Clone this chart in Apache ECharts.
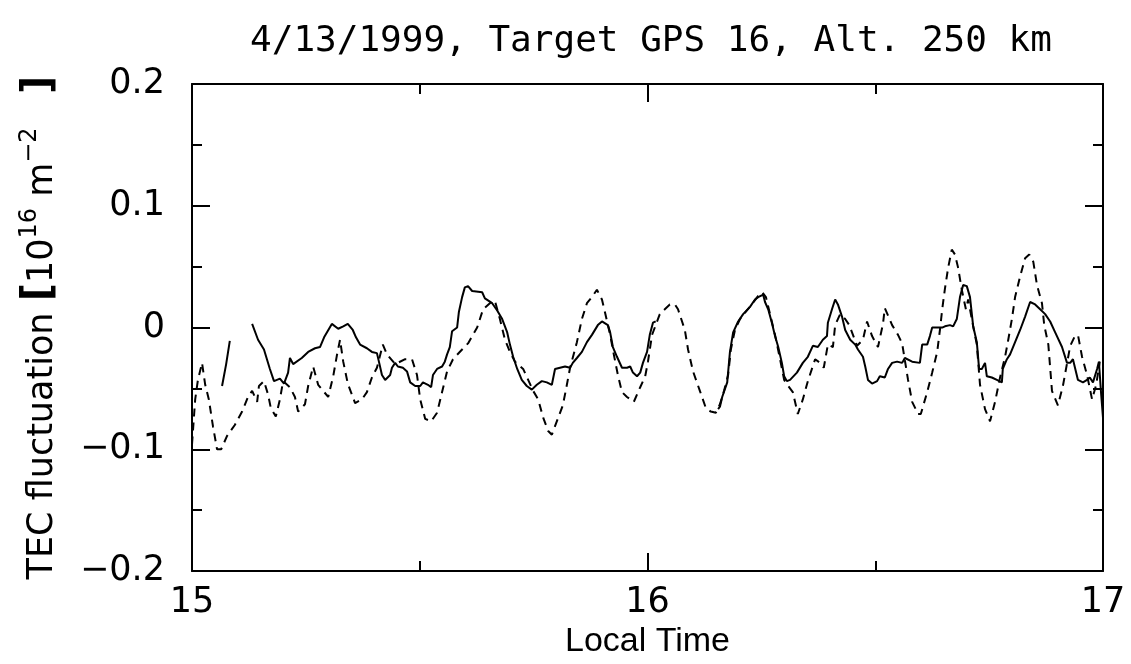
<!DOCTYPE html>
<html>
<head>
<meta charset="utf-8">
<script src="https://cdn.jsdelivr.net/npm/echarts@6/dist/echarts.min.js"></script>
<style>
html,body{margin:0;padding:0;background:#fff;}
#chart{width:1131px;height:664px;}
</style>
</head>
<body>
<div id="chart"></div>
<script>
// Local time (hours) and TEC fluctuation (10^16 m^-2)
const solidTime = [15.066,15.075,15.083,15.100,
15.132,15.145,15.158,15.171,15.180,15.193,15.202,15.211,15.215,15.222,15.241,15.255,15.270,15.281,15.290,15.307,15.321,15.332,15.342,15.353,15.360,15.369,15.384,15.395,15.406,15.411,15.417,15.424,15.435,15.439,15.446,15.452,15.463,15.472,15.479,15.490,15.501,15.507,15.518,15.525,15.529,15.538,15.549,15.555,15.560,15.566,15.571,15.582,15.586,15.593,15.599,15.606,15.615,15.637,15.643,15.659,15.670,15.681,15.692,15.698,15.705,15.714,15.724,15.735,15.746,15.757,15.768,15.779,15.790,15.797,15.808,15.819,15.830,15.836,15.845,15.856,15.867,15.878,15.891,15.900,15.913,15.918,15.924,15.933,15.944,15.955,15.962,15.968,15.977,15.984,15.990,15.999,16.005,16.012,16.018,16.030,
16.155,16.159,16.164,16.175,16.181,16.188,16.199,16.210,16.225,16.236,16.243,16.254,16.258,16.265,16.273,16.280,16.287,16.295,16.300,16.306,16.313,16.328,16.341,16.352,16.363,16.374,16.385,16.394,16.396,16.405,16.412,16.418,16.427,16.434,16.445,16.456,16.462,16.473,16.478,16.484,16.493,16.504,16.510,16.521,16.528,16.537,16.548,16.559,16.565,16.581,16.598,16.603,16.614,16.620,16.625,16.647,16.653,16.664,16.671,16.679,16.686,16.693,16.701,16.708,16.715,16.723,16.728,16.734,16.741,16.745,16.756,16.767,16.778,16.780,16.789,16.796,16.807,16.818,16.829,16.840,16.851,16.862,16.873,16.884,16.895,16.910,16.921,16.928,16.934,16.945,16.956,16.965,16.971,16.978,16.987,16.991,16.996,17.000];
const solidValue = [-0.048,-0.030,-0.011,null,
0.003,-0.010,-0.018,-0.034,-0.044,-0.042,-0.046,-0.037,-0.025,-0.030,-0.025,-0.020,-0.017,-0.016,-0.008,0.003,-0.001,0.001,0.003,-0.002,-0.008,-0.014,-0.017,-0.020,-0.021,-0.029,-0.039,-0.043,-0.039,-0.033,-0.029,-0.032,-0.033,-0.036,-0.045,-0.048,-0.048,-0.045,-0.047,-0.049,-0.039,-0.034,-0.032,-0.028,-0.022,-0.016,-0.003,0.000,0.013,0.025,0.033,0.034,0.030,0.029,0.024,0.020,0.014,0.007,-0.004,-0.014,-0.024,-0.034,-0.043,-0.048,-0.051,-0.047,-0.044,-0.045,-0.047,-0.034,-0.033,-0.032,-0.033,-0.029,-0.025,-0.020,-0.012,-0.006,0.002,0.005,0.002,-0.004,-0.016,-0.024,-0.033,-0.033,-0.032,-0.037,-0.040,-0.037,-0.029,-0.020,-0.006,0.004,0.005,null,
-0.067,-0.065,-0.057,-0.045,-0.020,-0.004,0.005,0.011,0.017,0.023,0.025,0.027,0.021,0.015,0.004,-0.007,-0.016,-0.029,-0.040,-0.044,-0.043,-0.037,-0.029,-0.024,-0.015,-0.016,-0.010,-0.007,0.004,0.015,0.023,0.019,0.009,-0.002,-0.010,-0.014,-0.018,-0.024,-0.032,-0.043,-0.046,-0.044,-0.040,-0.041,-0.034,-0.029,-0.028,-0.029,-0.025,-0.028,-0.029,-0.014,-0.014,-0.007,0.000,0.000,0.001,0.002,0.001,0.007,0.025,0.035,0.034,0.025,0.001,-0.012,-0.034,-0.034,-0.029,-0.040,-0.041,-0.043,-0.045,-0.034,-0.026,-0.022,-0.012,-0.002,0.009,0.021,0.019,0.015,0.011,0.005,-0.004,-0.016,-0.029,-0.029,-0.026,-0.043,-0.045,-0.043,-0.041,-0.045,-0.034,-0.028,-0.055,-0.074];

const dashedTime = [15.000,15.007,15.013,15.022,15.029,15.037,15.046,15.055,15.064,15.077,15.094,15.110,15.123,15.132,15.143,15.147,15.158,15.167,15.173,15.184,15.193,15.200,15.215,15.226,15.233,15.248,15.255,15.266,15.277,15.288,15.299,15.310,15.318,15.325,15.332,15.342,15.358,15.373,15.384,15.395,15.406,15.419,15.428,15.446,15.468,15.483,15.494,15.501,15.512,15.525,15.538,15.549,15.560,15.573,15.593,15.606,15.626,15.639,15.654,15.665,15.676,15.687,15.698,15.709,15.727,15.738,15.749,15.760,15.771,15.782,15.790,15.803,15.814,15.821,15.830,15.845,15.856,15.867,15.878,15.889,15.900,15.907,15.918,15.926,15.935,15.944,15.955,15.970,15.984,15.995,16.001,16.010,16.018,16.027,16.038,16.049,16.060,16.067,16.082,16.089,16.100,16.115,16.128,16.139,16.150,16.159,16.168,16.177,16.183,16.192,16.203,16.216,16.229,16.243,16.252,16.260,16.269,16.280,16.291,16.300,16.309,16.319,16.330,16.341,16.352,16.368,16.379,16.387,16.396,16.407,16.412,16.423,16.434,16.443,16.460,16.473,16.482,16.493,16.506,16.517,16.521,16.537,16.550,16.559,16.572,16.581,16.594,16.600,16.614,16.625,16.636,16.642,16.647,16.653,16.660,16.668,16.675,16.682,16.690,16.699,16.704,16.715,16.723,16.730,16.741,16.752,16.763,16.774,16.785,16.792,16.800,16.807,16.818,16.829,16.838,16.847,16.855,16.866,16.871,16.880,16.884,16.888,16.901,16.912,16.928,16.937,16.945,16.954,16.965,16.976,16.985,16.993];
const dashedValue = [-0.096,-0.059,-0.043,-0.029,-0.047,-0.059,-0.081,-0.100,-0.100,-0.089,-0.080,-0.069,-0.057,-0.052,-0.061,-0.048,-0.044,-0.055,-0.066,-0.073,-0.059,-0.044,-0.049,-0.057,-0.069,-0.063,-0.048,-0.032,-0.047,-0.052,-0.057,-0.040,-0.023,-0.010,-0.028,-0.046,-0.062,-0.059,-0.053,-0.041,-0.033,-0.014,-0.022,-0.030,-0.026,-0.026,-0.039,-0.059,-0.075,-0.077,-0.070,-0.053,-0.036,-0.026,-0.018,-0.013,0.000,0.015,0.020,0.022,0.007,-0.010,-0.020,-0.028,-0.034,-0.043,-0.052,-0.059,-0.074,-0.085,-0.088,-0.075,-0.064,-0.051,-0.033,-0.012,0.007,0.020,0.025,0.031,0.023,0.012,-0.006,-0.022,-0.039,-0.053,-0.057,-0.061,-0.049,-0.040,-0.028,-0.006,0.002,0.011,0.015,0.019,0.019,0.015,-0.002,-0.018,-0.036,-0.052,-0.066,-0.069,-0.070,-0.063,-0.052,-0.039,-0.018,-0.002,0.007,0.013,0.019,0.026,0.029,0.025,0.011,-0.006,-0.026,-0.043,-0.048,-0.053,-0.071,-0.059,-0.044,-0.026,-0.029,-0.033,-0.014,-0.016,0.002,0.011,0.007,0.002,-0.015,-0.010,0.005,-0.007,-0.016,0.003,0.016,0.002,-0.006,-0.013,-0.043,-0.061,-0.071,-0.071,-0.053,-0.037,-0.020,-0.002,0.015,0.032,0.049,0.064,0.060,0.049,0.031,0.015,0.023,0.001,-0.014,-0.047,-0.067,-0.077,-0.061,-0.041,-0.024,-0.010,0.007,0.025,0.042,0.057,0.060,0.054,0.035,0.020,0.002,-0.014,-0.033,-0.052,-0.064,-0.048,-0.015,-0.008,-0.006,-0.024,-0.039,-0.059,-0.047,-0.028];

const xTickValues = [15, 16, 17];
const xTickLabels = ['15', '16', '17'];
const yTickValues = [-0.2, -0.1, 0, 0.1, 0.2];
const yTickLabels = ['\u22120.2', '\u22120.1', '0', '0.1', '0.2'];

const titleText = '4/13/1999, Target GPS 16, Alt. 250 km';
const xName = 'Local Time';

const FONT = 'DejaVu Sans';
const MONO = 'DejaVu Sans Mono';
const NARROW = 'Liberation Sans';
const toPairs = (ts, vs) => ts.map((t, i) => [t, vs[i]]);
function labelFor(vals, labels, v) {
  for (let i = 0; i < vals.length; i++) if (Math.abs(vals[i] - v) < 1e-9) return labels[i];
  return '';
}

const chart = echarts.init(document.getElementById('chart'), null, {renderer: 'canvas'});
const tickCommon = {
  axisLine: {show: true, onZero: false, lineStyle: {color: '#000', width: 2}},
  axisTick: {show: true, inside: true, length: 18, lineStyle: {color: '#000', width: 2}},
  minorTick: {show: true, splitNumber: 2, length: 10, lineStyle: {color: '#000', width: 2}},
  splitLine: {show: false}
};
chart.setOption({
  animation: false,
  backgroundColor: '#fff',
  title: {
    text: titleText, left: 646, top: 19, textAlign: 'center',
    textStyle: {fontFamily: MONO, fontSize: 36, fontWeight: 'normal', color: '#000'}
  },
  grid: {left: 192, right: 28, top: 84, bottom: 92, containLabel: false},
  xAxis: [
    Object.assign({
      type: 'value', min: 15, max: 17, interval: 1, position: 'bottom',
      name: xName, nameLocation: 'middle', nameGap: 52,
      nameTextStyle: {fontFamily: NARROW, fontSize: 34, color: '#000'},
      axisLabel: {show: true, margin: 14, color: '#000', fontFamily: FONT, fontSize: 35,
        formatter: v => labelFor(xTickValues, xTickLabels, v)}
    }, tickCommon),
    Object.assign({
      type: 'value', min: 15, max: 17, interval: 1, position: 'top',
      axisLabel: {show: false}
    }, tickCommon)
  ],
  yAxis: [
    Object.assign({
      type: 'value', min: -0.2, max: 0.2, interval: 0.1, position: 'left',
      name: '{t|TEC fluctuation }{b|[}{t|10}{s|16}{t| m}{s|\u22122}{w|   }{b|]}',
      nameLocation: 'middle', nameGap: 132, nameRotate: 90,
      nameTextStyle: {
        fontFamily: FONT, fontSize: 35, color: '#000',
        rich: {
          t: {fontFamily: FONT, fontSize: 35, color: '#000', verticalAlign: 'bottom', lineHeight: 42},
          w: {fontFamily: FONT, fontSize: 35, color: '#000', verticalAlign: 'bottom', lineHeight: 42},
          b: {fontFamily: FONT, fontSize: 40, fontWeight: 'bold', color: '#000', verticalAlign: 'bottom', lineHeight: 42},
          s: {fontFamily: FONT, fontSize: 24, color: '#000', verticalAlign: 'top', lineHeight: 42}
        }
      },
      axisLabel: {show: true, margin: 27, color: '#000', fontFamily: FONT, fontSize: 35,
        formatter: v => labelFor(yTickValues, yTickLabels, v)}
    }, tickCommon),
    Object.assign({
      type: 'value', min: -0.2, max: 0.2, interval: 0.1, position: 'right',
      axisLabel: {show: false}
    }, tickCommon)
  ],
  series: [
    {
      type: 'line', name: 'solid', xAxisIndex: 0, yAxisIndex: 0,
      data: toPairs(solidTime, solidValue), symbol: 'none', connectNulls: false,
      lineStyle: {color: '#000', width: 2, type: 'solid'}
    },
    {
      type: 'line', name: 'dashed', xAxisIndex: 0, yAxisIndex: 0,
      data: toPairs(dashedTime, dashedValue), symbol: 'none', connectNulls: false,
      lineStyle: {color: '#000', width: 2, type: [8, 6]}
    }
  ]
});
</script>
</body>
</html>
